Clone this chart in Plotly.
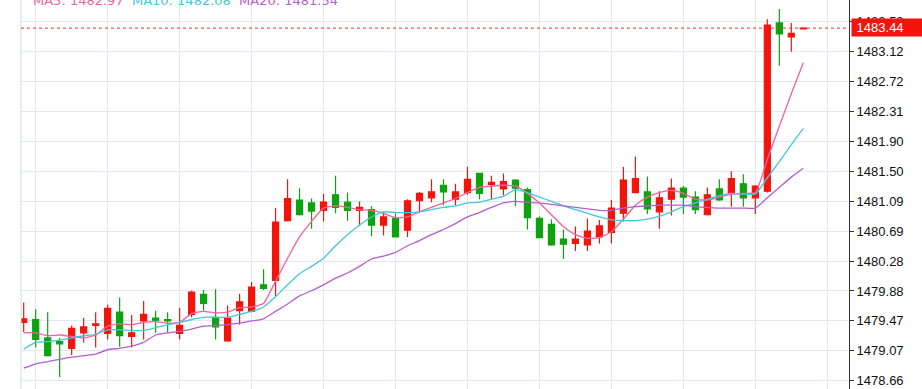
import plotly.graph_objects as go

# ---------------- data ----------------
bar_index = list(range(66))

open_ = [1479.45, 1479.49, 1479.24, 1479.19, 1479.10, 1479.31, 1479.41, 1479.30, 1479.59, 1479.26,
         1479.47, 1479.51, 1479.49, 1479.30, 1479.56, 1479.83, 1479.52, 1479.20, 1479.61, 1479.60,
         1479.96, 1480.02, 1480.83, 1481.11, 1481.07, 1480.97, 1481.18, 1481.08, 1480.97, 1480.98,
         1480.77, 1480.86, 1480.70, 1481.10, 1481.14, 1481.31, 1481.12, 1481.21, 1481.47, 1481.32,
         1481.26, 1481.38, 1481.25, 1480.86, 1480.78, 1480.58, 1480.52, 1480.50, 1480.61, 1480.67,
         1480.93, 1481.21, 1481.22, 1480.95, 1481.12, 1481.27, 1481.15, 1480.91, 1481.26, 1481.20,
         1481.33, 1481.14, 1481.23, 1483.51, 1483.32, 1483.43]
high = [1479.72, 1479.63, 1479.59, 1479.24, 1479.41, 1479.51, 1479.59, 1479.69, 1479.79, 1479.55,
        1479.74, 1479.61, 1479.59, 1479.65, 1479.88, 1479.89, 1479.90, 1479.68, 1479.84, 1480.00,
        1480.17, 1481.00, 1481.39, 1481.27, 1481.13, 1481.19, 1481.44, 1481.21, 1481.09, 1481.03,
        1480.95, 1480.93, 1481.12, 1481.22, 1481.39, 1481.39, 1481.33, 1481.56, 1481.48, 1481.44,
        1481.47, 1481.39, 1481.28, 1480.89, 1480.85, 1480.71, 1480.75, 1480.86, 1480.84, 1481.11,
        1481.56, 1481.70, 1481.43, 1481.23, 1481.40, 1481.30, 1481.23, 1481.28, 1481.39, 1481.50,
        1481.46, 1481.31, 1483.56, 1483.70, 1483.51, 1483.45]
low = [1479.32, 1479.11, 1478.99, 1478.71, 1479.01, 1479.18, 1479.11, 1479.22, 1479.12, 1479.11,
       1479.22, 1479.31, 1479.31, 1479.22, 1479.52, 1479.61, 1479.22, 1479.19, 1479.42, 1479.59,
       1479.89, 1479.81, 1480.82, 1480.90, 1480.72, 1480.82, 1480.93, 1480.83, 1480.76, 1480.62,
       1480.63, 1480.60, 1480.61, 1480.94, 1481.08, 1481.04, 1481.04, 1481.18, 1481.12, 1481.12,
       1481.17, 1481.03, 1480.71, 1480.59, 1480.49, 1480.31, 1480.42, 1480.42, 1480.52, 1480.52,
       1480.82, 1481.20, 1480.92, 1480.72, 1480.90, 1480.92, 1480.92, 1480.90, 1481.10, 1481.02,
       1481.02, 1480.92, 1481.21, 1482.93, 1483.12, 1483.42]
close = [1479.50, 1479.22, 1479.00, 1479.16, 1479.37, 1479.39, 1479.43, 1479.64, 1479.27, 1479.31,
         1479.56, 1479.48, 1479.47, 1479.41, 1479.86, 1479.71, 1479.39, 1479.51, 1479.73, 1479.93,
         1479.91, 1480.81, 1481.13, 1480.91, 1480.96, 1481.08, 1481.01, 1480.97, 1481.01, 1480.77,
         1480.88, 1480.61, 1481.10, 1481.20, 1481.22, 1481.22, 1481.22, 1481.39, 1481.20, 1481.35,
         1481.36, 1481.27, 1480.87, 1480.60, 1480.50, 1480.51, 1480.58, 1480.69, 1480.76, 1481.00,
         1481.38, 1481.40, 1480.99, 1481.14, 1481.27, 1481.15, 1480.98, 1481.18, 1481.11, 1481.40,
         1481.14, 1481.30, 1483.48, 1483.36, 1483.37, 1483.44]

ma5 = [1479.31, 1479.31, 1479.27, 1479.28, 1479.26, 1479.24, 1479.28, 1479.40, 1479.43, 1479.42,
       1479.45, 1479.46, 1479.44, 1479.45, 1479.57, 1479.60, 1479.58, 1479.59, 1479.65, 1479.66,
       1479.71, 1480.01, 1480.32, 1480.61, 1480.82, 1481.00, 1481.03, 1481.01, 1480.98, 1480.97,
       1480.93, 1480.87, 1480.88, 1480.95, 1481.01, 1481.07, 1481.13, 1481.21, 1481.28, 1481.30,
       1481.31, 1481.30, 1481.20, 1481.07, 1480.91, 1480.75, 1480.64, 1480.59, 1480.60, 1480.68,
       1480.85, 1481.04, 1481.15, 1481.21, 1481.24, 1481.20, 1481.12, 1481.11, 1481.15, 1481.19,
       1481.20, 1481.21, 1481.66, 1482.11, 1482.55, 1482.97]
ma10 = [1479.09, 1479.18, 1479.19, 1479.21, 1479.24, 1479.27, 1479.29, 1479.35, 1479.35, 1479.34,
        1479.34, 1479.38, 1479.42, 1479.45, 1479.49, 1479.52, 1479.52, 1479.52, 1479.56, 1479.60,
        1479.66, 1479.80, 1479.96, 1480.11, 1480.21, 1480.32, 1480.49, 1480.64, 1480.77, 1480.88,
        1480.95, 1480.94, 1480.94, 1480.95, 1480.98, 1481.01, 1481.03, 1481.07, 1481.08, 1481.12,
        1481.16, 1481.25, 1481.21, 1481.15, 1481.09, 1481.03, 1480.98, 1480.93, 1480.88, 1480.84,
        1480.83, 1480.83, 1480.85, 1480.89, 1480.95, 1481.02, 1481.07, 1481.12, 1481.17, 1481.20,
        1481.19, 1481.19, 1481.41, 1481.63, 1481.86, 1482.08]
ma20 = [1478.83, 1478.89, 1478.92, 1478.95, 1478.98, 1479.00, 1479.02, 1479.08, 1479.10, 1479.13,
        1479.18, 1479.28, 1479.31, 1479.33, 1479.36, 1479.40, 1479.41, 1479.42, 1479.44, 1479.47,
        1479.50, 1479.60, 1479.70, 1479.81, 1479.88, 1479.96, 1480.05, 1480.12, 1480.21, 1480.31,
        1480.35, 1480.40, 1480.49, 1480.56, 1480.64, 1480.71, 1480.79, 1480.88, 1480.94, 1481.01,
        1481.07, 1481.09, 1481.08, 1481.07, 1481.05, 1481.03, 1481.01, 1480.99, 1480.97, 1480.97,
        1481.00, 1481.02, 1481.03, 1481.04, 1481.04, 1481.04, 1481.02, 1481.01, 1481.00, 1481.00,
        1481.00, 1481.00, 1481.14, 1481.28, 1481.42, 1481.54]

y_ticks = [1478.66 + 0.4055 * i for i in range(13)]
y_tick_text = ["%.2f" % v for v in y_ticks]
x_grid = list(range(1, 68, 6))
last_price = 1483.44
ma_labels = ["MA5", "MA10", "MA20"]

# ---------------- styling ----------------
UP = "#f2150b"
DOWN = "#0ca30f"
C5, C10, C20 = "#f2629c", "#45c6dc", "#b45fd0"
GRID = "#e1e8ef"
TICKFONT = "Liberation Sans, Arial, sans-serif"
TITLEFONT = "DejaVu Sans, Verdana, sans-serif"

fig = go.Figure()
fig.add_trace(go.Candlestick(
    x=bar_index, open=open_, high=high, low=low, close=close,
    increasing=dict(line=dict(color=UP, width=1.2), fillcolor=UP),
    decreasing=dict(line=dict(color=DOWN, width=1.2), fillcolor=DOWN),
    whiskerwidth=0, showlegend=False, hoverinfo="skip"))
for vals, col in ((ma5, C5), (ma10, C10), (ma20, C20)):
    fig.add_trace(go.Scatter(x=bar_index, y=vals, mode="lines",
                             line=dict(color=col, width=1.3, shape="spline", smoothing=0.5),
                             showlegend=False, hoverinfo="skip"))

fig.update_layout(
    width=922, height=389,
    margin=dict(l=21, r=73, t=0, b=0, autoexpand=False),
    paper_bgcolor="white", plot_bgcolor="white",
    boxgap=0.28,
    xaxis=dict(range=[-0.225, 68.81], tickvals=x_grid, showticklabels=False,
               showgrid=True, gridcolor=GRID, gridwidth=1, zeroline=False,
               rangeslider=dict(visible=False), fixedrange=True),
    yaxis=dict(side="right", range=[1478.548, 1483.821], tickvals=y_ticks, ticktext=y_tick_text,
               showgrid=True, gridcolor=GRID, gridwidth=1, zeroline=False,
               showline=True, linecolor="#333333", linewidth=1,
               ticks="outside", ticklen=4, tickcolor="#333333",
               tickfont=dict(family=TICKFONT, size=13, color="#111111"), fixedrange=True),
    font=dict(family=TICKFONT),
)

fig.add_shape(type="line", xref="paper", yref="paper", x0=0, x1=0, y0=0, y1=1,
              line=dict(color="#d3d9e0", width=1))
fig.add_shape(type="line", xref="paper", yref="y", x0=0, x1=1, y0=last_price, y1=last_price,
              line=dict(color="#ff2a1a", width=1, dash="dot"))

fig.add_annotation(x=1, xref="paper", xanchor="left", xshift=2,
                   y=last_price, yref="y", yanchor="middle", yshift=1,
                   text="&nbsp;%.2f" % last_price, showarrow=False, align="left",
                   width=68, bgcolor="#f2150b", borderpad=1,
                   font=dict(family=TICKFONT, size=13, color="white"))

title = "&nbsp;&nbsp;".join(
    '<span style="color:%s">%s: %.2f</span>' % (c, n, v[-1])
    for n, c, v in zip(ma_labels, (C5, C10, C20), (ma5, ma10, ma20)))
fig.add_annotation(x=0, xref="paper", xanchor="left", xshift=10,
                   y=1, yref="paper", yanchor="middle", yshift=0,
                   text=title, showarrow=False, align="left",
                   font=dict(family=TITLEFONT, size=13))

fig.write_html("out.html", config={"displayModeBar": False, "staticPlot": True},
               post_script="document.body.style.margin='0';document.body.style.overflow='hidden';")
